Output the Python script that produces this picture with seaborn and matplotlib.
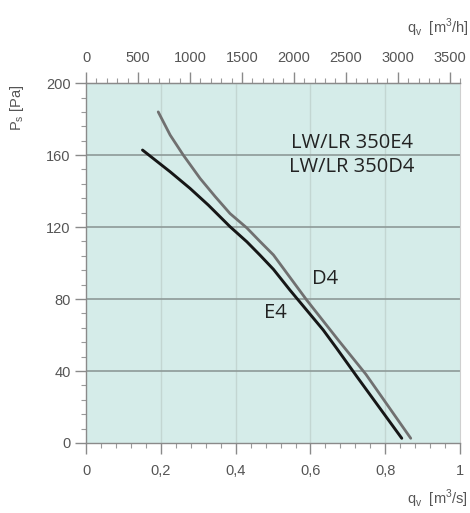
import numpy as np
import pandas as pd
import seaborn as sns
import matplotlib.pyplot as plt
from matplotlib.ticker import MultipleLocator, FuncFormatter

# curves (q in m3/s, ps in Pa)
e4_q = [0.151, 0.225, 0.278, 0.327, 0.385, 0.430, 0.465, 0.501, 0.545,
        0.634, 0.670, 0.724, 0.844]
e4_ps = [162.8, 150.7, 141.5, 132.2, 120.2, 111.8, 104.4, 96.5, 85.0,
         62.8, 52.6, 36.9, 2.6]
d4_q = [0.193, 0.225, 0.260, 0.305, 0.345, 0.385, 0.430, 0.465, 0.501, 0.590,
        0.675, 0.748, 0.868]
d4_ps = [184.0, 171.1, 160.0, 147.0, 137.0, 127.5, 119.5, 112.0, 104.5, 79.4,
         57.0, 38.2, 2.6]

x_ticks = [0, 0.2, 0.4, 0.6, 0.8, 1]
y_ticks = [0, 40, 80, 120, 160, 200]
top_ticks = [0, 500, 1000, 1500, 2000, 2500, 3000, 3500]

sns.set_style("ticks")
plt.rcParams['font.family'] = ['Liberation Sans', 'DejaVu Sans']

fig = plt.figure(figsize=(4.7, 5.13), dpi=100)
ax = fig.add_axes([0.183, 0.1365, 0.796, 0.7015])
ax.set_facecolor('#d5ece9')

e4 = pd.DataFrame({'q': e4_q, 'ps': e4_ps})
d4 = pd.DataFrame({'q': d4_q, 'ps': d4_ps})
sns.lineplot(data=d4, x='q', y='ps', ax=ax, color='#707070', lw=2, zorder=3)
sns.lineplot(data=e4, x='q', y='ps', ax=ax, color='#161616', lw=2.1, zorder=3)

ax.set_xlim(0, 1)
ax.set_ylim(0, 200)
ax.set_xlabel('')
ax.set_ylabel('')

# grid
for v in x_ticks[1:-1]:
    ax.axvline(v, color='#c3d6d2', lw=1, zorder=1)
for v in y_ticks[1:-1]:
    ax.axhline(v, color='#8e9a98', lw=1.2, zorder=1)

tick_col = '#555555'
ax.set_xticks(x_ticks)
ax.xaxis.set_minor_locator(MultipleLocator(0.04))
ax.xaxis.set_major_formatter(FuncFormatter(lambda v, p: ('%g' % v).replace('.', ',')))
ax.set_yticks(y_ticks)
ax.yaxis.set_minor_locator(MultipleLocator(8))
ax.tick_params(which='major', length=8, width=1, color='#8a8a8a', labelcolor=tick_col, labelsize=10.5)
ax.tick_params(which='minor', length=3.5, width=0.8, color='#9a9a9a')
ax.tick_params(axis='x', pad=7)
ax.tick_params(axis='y', pad=3)

for s in ['left', 'bottom', 'top']:
    ax.spines[s].set_color('#8a8a8a')
    ax.spines[s].set_linewidth(1)
ax.spines['right'].set_color('#cfcfcf')
ax.spines['right'].set_visible(True)
ax.spines['top'].set_visible(True)

# secondary axis in m3/h
top = ax.secondary_xaxis('top', functions=(lambda q: q * 3600, lambda h: h / 3600))
top.set_xticks(top_ticks)
top.xaxis.set_minor_locator(MultipleLocator(100))
top.tick_params(which='major', length=8, width=1, color='#8a8a8a', labelcolor=tick_col,
                labelsize=10.5, pad=5)
top.tick_params(which='minor', length=3.5, width=0.8, color='#9a9a9a')
top.spines['top'].set_color('#8a8a8a')

# labels
fig.text(0.998, 0.935, r'q$_\mathregular{v}$  [m$^\mathregular{3}$/h]', ha='right', va='baseline',
         fontsize=10.5, color=tick_col)
fig.text(0.996, 0.018, r'q$_\mathregular{v}$  [m$^\mathregular{3}$/s]', ha='right', va='baseline',
         fontsize=10.5, color=tick_col)
fig.text(0.036, 0.79, r'P$_\mathregular{s}$ [Pa]', ha='center', va='center', rotation=90,
         fontsize=10.5, color=tick_col)

lab_font = ['Open Sans', 'DejaVu Sans']
ax.text(0.711, 160, 'LW/LR 350E4\nLW/LR 350D4', ha='center', va='center', fontsize=14.5,
        color='#222222', linespacing=1.25, family=lab_font)
ax.text(0.639, 91, 'D4', ha='center', va='center', fontsize=14.5, color='#222222', family=lab_font)
ax.text(0.505, 72.5, 'E4', ha='center', va='center', fontsize=14.5, color='#222222', family=lab_font)

fig.savefig('out.png', dpi=100)
